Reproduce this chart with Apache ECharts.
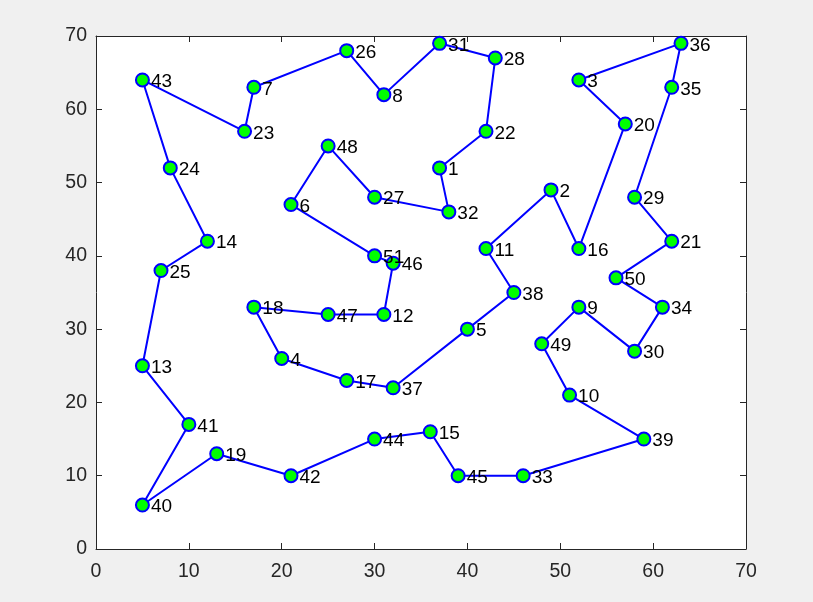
<!DOCTYPE html>
<html>
<head>
<meta charset="utf-8">
<script src="https://cdn.jsdelivr.net/npm/echarts@6/dist/echarts.min.js"></script>
<style>
html,body{margin:0;padding:0;background:#f0f0f0;}
#c{width:813px;height:602px;}
</style>
</head>
<body>
<div id="c"></div>
<script>
// City ids and coordinates (eil51-like)
const cityIds = [1,2,3,4,5,6,7,8,9,10,11,12,13,14,15,16,17,18,19,20,21,22,23,24,25,26,27,28,29,30,31,32,33,34,35,36,37,38,39,40,41,42,43,44,45,46,47,48,49,50,51];
const cityX = [37,49,52,20,40,21,17,31,52,51,42,31,5,12,36,52,27,17,13,57,62,42,16,8,7,27,30,43,58,58,37,38,46,61,62,63,32,45,59,5,10,21,5,30,39,32,25,25,48,56,30];
const cityY = [52,49,64,26,30,47,63,62,33,21,41,32,25,42,16,41,23,33,13,58,42,57,57,52,38,68,48,67,48,27,69,46,10,33,63,69,22,35,15,6,17,10,64,15,10,39,32,55,28,37,40];
// Tour order
const tour = [43,24,14,25,13,41,40,19,42,44,15,45,33,39,10,49,9,30,34,50,21,29,35,36,3,20,16,2,11,38,5,37,17,4,18,47,12,46,51,6,48,27,32,1,22,28,31,8,26,7,23,43];
const xTicks = [0,10,20,30,40,50,60,70];
const yTicks = [0,10,20,30,40,50,60,70];

const tourData = tour.map(id => [cityX[id-1], cityY[id-1]]);
const pointData = cityIds.map((id,i) => ({value:[cityX[i], cityY[i]], name:String(id)}));

const axisCol = '#262626';
const font = 'Liberation Sans, Arial, Helvetica, sans-serif';
function mkX(pos, labels){
  return {type:'value', position:pos, min:xTicks[0], max:xTicks[xTicks.length-1], interval:10,
    axisLine:{show:true, onZero:false, lineStyle:{color:axisCol, width:1}},
    axisTick:{show:true, inside:true, length:6, lineStyle:{color:axisCol}},
    axisLabel:{show:labels, color:axisCol, fontSize:19.5, fontFamily:font, margin:13},
    splitLine:{show:false}};
}
function mkY(pos, labels){
  return {type:'value', position:pos, min:yTicks[0], max:yTicks[yTicks.length-1], interval:10,
    axisLine:{show:true, onZero:false, lineStyle:{color:axisCol, width:1}},
    axisTick:{show:true, inside:true, length:6, lineStyle:{color:axisCol}},
    axisLabel:{show:labels, color:axisCol, fontSize:19.5, fontFamily:font, margin:9},
    splitLine:{show:false}};
}
const chart = echarts.init(document.getElementById('c'), null, {renderer:'canvas'});
chart.setOption({
  backgroundColor:'#f0f0f0',
  animation:false,
  grid:{left:96, right:67, top:36, bottom:53, show:true, backgroundColor:'#ffffff', borderWidth:0},
  xAxis:[mkX('bottom', true), mkX('top', false)],
  yAxis:[mkY('left', true), mkY('right', false)],
  series:[
    {type:'line', xAxisIndex:0, yAxisIndex:0, data:tourData, showSymbol:false, symbol:'none',
     lineStyle:{color:'#0000ff', width:2}, z:2},
    {type:'scatter', xAxisIndex:0, yAxisIndex:0, data:pointData, symbol:'circle', symbolSize:13,
     itemStyle:{color:'#00ff00', borderColor:'#0000ff', borderWidth:2, opacity:1},
     label:{show:true, position:'right', distance:1, formatter:p=>p.name, color:'#000', fontSize:19, fontFamily:font, offset:[0,2]},
     z:3}
  ]
});
</script>
</body>
</html>
